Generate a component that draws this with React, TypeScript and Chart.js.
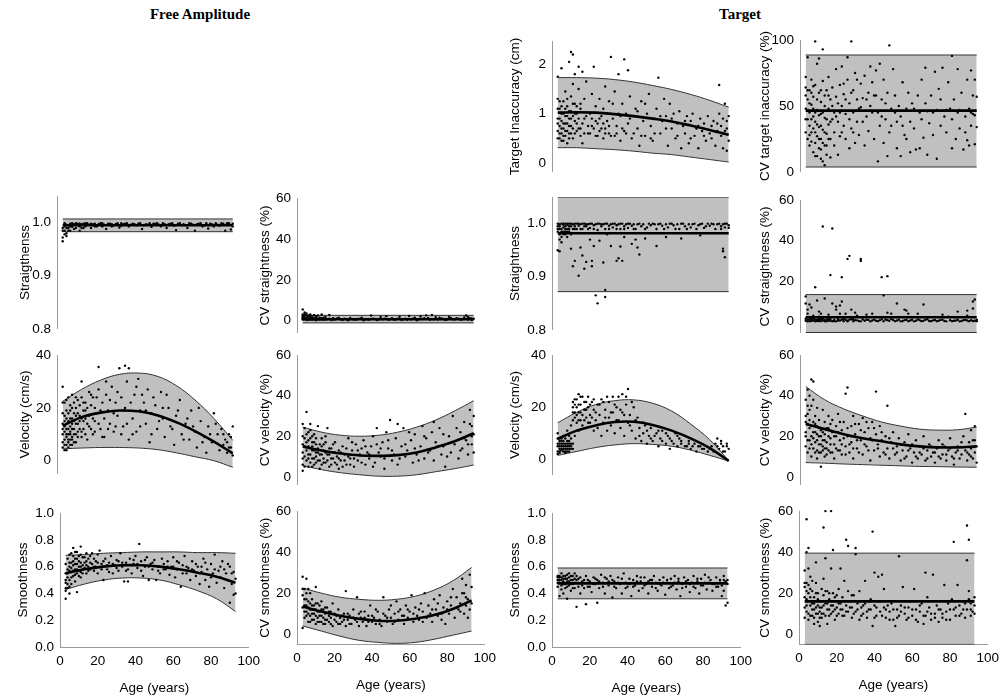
import React, { useEffect, useRef } from "react";
import { Chart, registerables } from "chart.js";
Chart.register(...registerables);

const FONT = "'Liberation Sans', Arial, Helvetica, sans-serif";

// ---------- shared grids ----------
const ageGrid = [3, 13, 23, 33, 43, 53, 63, 73, 83, 93];
const flatGrid = [3, 93];
const ageTicks = [0, 20, 40, 60, 80, 100];

// ---------- Free Amplitude: Straightness ----------
const faStraightPts: [number, number][] = [[3,0.965],[3,0.972],[4,0.978],[4,0.985],[5,0.99],[5,0.975],[6,0.995],[6,0.985],[7,0.998],[8,0.992],[9,0.988],[10,0.999],[11,0.995],[12,0.985],[13,0.997],[14,0.99],[15,0.999],[17,0.996],[18,0.99],[20,0.998],[21,0.993],[23,0.999],[25,0.996],[26,0.988],[28,0.998],[30,0.995],[32,0.999],[33,0.991],[35,0.997],[37,0.999],[38,0.993],[40,0.998],[42,0.995],[44,0.999],[45,0.988],[47,0.997],[49,0.999],[50,0.992],[52,0.998],[54,0.996],[56,0.999],[58,0.99],[60,0.998],[62,0.994],[63,0.986],[65,0.999],[67,0.997],[69,0.99],[70,0.999],[72,0.996],[73,0.985],[75,0.998],[77,0.993],[79,0.999],[80,0.989],[82,0.997],[84,0.999],[86,0.994],[88,0.998],[89,0.985],[90,0.999],[91,0.996],[92,0.987],[93,0.998],[4,0.999],[8,0.999],[12,0.998],[16,0.999],[19,0.997],[24,0.999],[29,0.997],[34,0.999],[39,0.996],[43,0.998],[48,0.996],[53,0.999],[57,0.997],[61,0.999],[66,0.995],[71,0.998],[76,0.999],[81,0.998],[85,0.996],[87,0.999]];
const faStraightPts2: [number, number][] = [[3,0.99],[3,0.985],[4,0.993],[5,0.996],[5,0.98],[6,0.99],[7,0.993],[7,0.985],[8,0.995],[9,0.997],[10,0.99],[11,0.998],[12,0.993],[13,0.99],[14,0.998],[15,0.993],[16,0.996],[18,0.998],[20,0.993],[22,0.997],[24,0.993],[27,0.998],[29,0.993],[31,0.997],[34,0.994],[36,0.998],[41,0.997],[46,0.995],[51,0.998],[55,0.993],[59,0.997],[64,0.998],[68,0.995],[74,0.997],[78,0.995],[83,0.993],[87,0.997],[91,0.999],[93,0.993]];
const faStraightFit = [0.995, 0.995];
const faStraightUp = [1.007, 1.007];
const faStraightLo = [0.983, 0.983];

// ---------- Free Amplitude: CV straightness ----------
const faCvStraightPts: [number, number][] = [[3,5.5],[3,3],[3,1.5],[3,0.5],[4,4],[4,2],[4,0.8],[5,3.5],[5,1.2],[5,0.3],[6,2.5],[6,1],[7,3],[7,0.5],[8,2],[8,1],[9,2.8],[9,0.6],[10,1.5],[10,0.2],[11,2.5],[11,1],[12,0.5],[13,3],[13,1.2],[14,0.4],[15,1.8],[16,0.7],[17,2.8],[18,0.3],[19,1.2],[20,0.5],[22,1.5],[24,0.3],[25,0.9],[27,0.2],[28,1.3],[30,0.5],[32,0.8],[34,1.5],[35,0.2],[37,0.7],[39,2.5],[40,1],[42,0.3],[44,1.8],[45,0.6],[47,2.2],[48,0.4],[50,1.2],[52,0.5],[54,1.9],[55,0.3],[57,1],[59,2.3],[60,0.6],[62,1.5],[63,0.2],[65,2],[66,0.8],[68,2.6],[69,1.3],[70,0.4],[71,2.8],[73,1.7],[74,0.5],[76,1.1],[78,0.3],[80,1.8],[82,0.7],[84,1.2],[86,0.4],[88,1.6],[89,2.5],[90,0.5],[91,1.2],[92,0.3],[93,0.9]];
const faCvStraightPts2: [number, number][] = [[3,2.2],[3,1],[4,3],[4,1.5],[5,2.5],[5,0.8],[6,1.8],[6,0.4],[7,2],[7,1.2],[8,1.5],[8,0.4],[9,1.2],[10,2.2],[11,0.5],[12,1.5],[13,0.6],[14,1.4],[15,0.6],[17,1],[19,0.5],[21,1.1],[23,0.6],[26,0.5],[29,0.7],[31,0.4],[33,0.9],[36,0.6],[38,0.4],[41,0.8],[43,0.5],[46,0.9],[49,0.6],[51,0.4],[53,0.9],[56,0.6],[58,0.4],[61,0.9],[64,0.5],[67,1.2],[72,0.6],[75,1.4],[77,0.8],[79,0.5],[81,1.3],[83,0.5],[85,0.9],[87,0.6],[90,1.8],[92,1.1]];
const faCvStraightFit = [0.7, 0.7];
const faCvStraightUp = [2.6, 2.6];
const faCvStraightLo = [-1.1, -1.1];

// ---------- Free Amplitude: Velocity ----------
const faVelPts: [number, number][] = [[3,5],[3,10],[3,14],[3,28],[4,4],[4,8],[4,11],[4,17],[4,22],[5,6],[5,9],[5,12],[5,19],[6,7],[6,10],[6,15],[6,24],[7,8],[7,11],[7,13],[7,21],[8,6],[8,9],[8,16],[8,25],[9,10],[9,12],[9,18],[10,7],[10,14],[10,20],[11,11],[11,23],[12,15],[12,17],[13,9],[13,30],[14,12],[14,19],[15,22],[15,16],[16,8],[17,26],[17,13],[18,21],[19,10],[19,24],[20,15],[21,18],[22,35.5],[22,27],[23,12],[24,22],[25,9],[26,25],[27,19],[28,14],[29,28],[30,11],[31,22],[32,17],[33,35],[34,24],[35,13],[36,36],[36,20],[37,30],[38,8],[38,35],[40,16],[41,25],[42,11],[43,31],[44,19],[46,22],[47,14],[48,27],[49,7],[50,18],[52,21],[53,12],[55,26],[56,16],[57,9],[59,20],[60,13],[62,6],[63,17],[65,23],[66,10],[68,14],[70,8],[71,19],[73,11],[74,5],[76,15],[78,9],[79,3],[80,13],[82,7],[83,18],[85,10],[86,4],[87,12],[88,6],[89,8],[90,3],[91,10],[92,5],[93,2],[93,13]];
const faVelPts2: [number, number][] = [[3,7],[3,12],[3,18],[3,22],[4,6],[4,13],[4,15],[5,4],[5,10],[5,14],[5,16],[5,23],[6,5],[6,8],[6,12],[6,18],[7,6],[7,10],[7,16],[7,19],[8,8],[8,12],[8,14],[8,20],[9,7],[9,15],[9,22],[10,10],[10,17],[10,24],[11,9],[11,14],[11,18],[12,12],[12,21],[13,11],[13,16],[13,24],[14,15],[14,22],[15,10],[15,19],[16,14],[16,20],[17,17],[18,12],[18,25],[19,16],[20,20],[20,11],[21,24],[22,14],[23,19],[24,9],[25,16],[26,30],[27,12],[28,23],[30,18],[31,13],[32,26],[34,10],[35,19],[37,14],[39,22],[40,10],[42,28],[44,13],[45,25],[47,19],[50,10],[51,24],[54,15],[56,20],[58,25],[61,12],[64,19],[67,8],[69,16],[72,13],[75,20],[77,7],[81,10],[84,14],[88,10],[90,7],[91,5],[92,9]];
const faVelFit = [13.2, 16.5, 18.2, 19, 18.7, 17.2, 14.6, 11.2, 7.2, 2.8];
const faVelUp = [22.5, 27, 30.5, 32.7, 33.2, 32, 28.5, 23, 16, 7.7];
const faVelLo = [4.5, 4.8, 5, 5, 4.8, 4.2, 3, 1.5, 0, -2.5];

// ---------- Free Amplitude: CV velocity ----------
const faCvVelPts: [number, number][] = [[3,3],[3,12],[3,20],[3,26],[4,15],[4,24],[5,8],[5,32],[5,17],[6,11],[6,22],[6,5],[7,14],[7,19],[7,26],[8,9],[8,13],[8,17],[9,6],[9,21],[10,12],[10,16],[11,8],[11,25],[12,11],[12,4],[13,15],[13,19],[14,9],[14,13],[15,7],[15,17],[16,11],[16,24],[17,5],[18,14],[18,9],[19,12],[20,7],[20,17],[21,10],[22,4],[22,13],[23,8],[24,15],[25,11],[26,6],[27,19],[28,9],[29,13],[30,5],[31,16],[32,8],[33,11],[34,14],[35,18],[36,6],[37,12],[38,9],[39,15],[40,20],[41,7],[42,24],[43,12],[44,10],[45,17],[46,4],[47,22],[48,14],[49,28],[50,8],[51,11],[52,19],[53,6],[55,15],[56,24],[57,10],[58,13],[60,18],[61,7],[62,21],[63,11],[65,15],[66,25],[67,9],[68,19],[70,13],[71,22],[72,8],[73,17],[75,24],[76,11],[77,15],[78,5],[80,20],[81,12],[82,30],[83,16],[85,9],[86,22],[87,14],[88,27],[89,18],[90,11],[91,33],[92,25],[92,16],[93,21],[93,12]];
const faCvVelPts2: [number, number][] = [[3,6],[3,9],[3,16],[4,10],[4,19],[4,5],[5,13],[5,21],[6,9],[6,15],[6,18],[7,7],[7,11],[7,23],[8,5],[8,15],[8,20],[9,9],[9,13],[9,17],[10,7],[10,10],[10,19],[11,12],[11,14],[12,8],[12,16],[13,6],[13,11],[14,16],[14,7],[15,12],[15,20],[16,8],[17,11],[17,14],[18,6],[19,9],[19,16],[20,12],[21,6],[22,9],[23,12],[24,5],[25,8],[26,14],[27,10],[28,6],[29,17],[30,9],[32,13],[34,7],[36,15],[38,11],[40,5],[42,16],[44,14],[46,9],[48,18],[50,13],[53,26],[54,9],[57,16],[59,22],[62,14],[64,8],[67,20],[69,12],[72,27],[74,15],[77,21],[79,10],[82,17],[84,24],[86,13],[88,19],[90,16],[91,26],[92,20],[93,30]];
const faCvVelFit = [15, 13, 11.5, 10.5, 10.3, 10.7, 12, 14.5, 17.5, 21.5];
const faCvVelUp = [24.5, 22, 20.5, 20, 20.5, 22, 24.5, 28, 32.5, 37.5];
const faCvVelLo = [5.5, 3.5, 2, 1, 0.3, 0.3, 1, 2.5, 4, 5.8];

// ---------- Free Amplitude: Smoothness ----------
const faSmoothPts: [number, number][] = [[3,0.36],[3,0.42],[3,0.48],[3,0.55],[3,0.62],[4,0.44],[4,0.52],[4,0.58],[4,0.66],[5,0.4],[5,0.5],[5,0.6],[5,0.69],[6,0.47],[6,0.56],[6,0.63],[7,0.53],[7,0.61],[7,0.74],[8,0.49],[8,0.58],[8,0.66],[9,0.41],[9,0.55],[9,0.62],[9,0.71],[10,0.57],[10,0.64],[11,0.52],[11,0.6],[11,0.75],[12,0.58],[12,0.67],[13,0.63],[14,0.55],[14,0.61],[15,0.66],[16,0.58],[17,0.7],[18,0.6],[19,0.64],[20,0.55],[21,0.72],[22,0.62],[23,0.5],[24,0.66],[25,0.58],[26,0.63],[27,0.68],[28,0.55],[29,0.61],[30,0.65],[31,0.57],[32,0.7],[33,0.6],[34,0.49],[35,0.63],[36,0.58],[37,0.66],[38,0.55],[39,0.62],[40,0.68],[41,0.59],[42,0.77],[43,0.64],[44,0.53],[45,0.6],[46,0.67],[47,0.5],[48,0.62],[49,0.58],[50,0.65],[51,0.5],[52,0.6],[53,0.55],[54,0.66],[55,0.62],[56,0.58],[57,0.64],[58,0.54],[59,0.6],[60,0.67],[61,0.52],[62,0.58],[63,0.63],[64,0.45],[65,0.61],[66,0.68],[67,0.55],[68,0.59],[69,0.5],[70,0.64],[71,0.57],[72,0.53],[73,0.6],[74,0.47],[75,0.56],[76,0.66],[77,0.5],[78,0.58],[79,0.45],[80,0.62],[81,0.55],[82,0.69],[83,0.48],[84,0.57],[85,0.52],[86,0.64],[87,0.44],[88,0.55],[89,0.5],[90,0.6],[90,0.33],[91,0.47],[92,0.56],[92,0.39],[93,0.51],[93,0.4]];
const faSmoothPts2: [number, number][] = [[3,0.44],[3,0.5],[4,0.47],[4,0.55],[5,0.45],[5,0.57],[5,0.63],[6,0.52],[6,0.59],[6,0.7],[7,0.57],[7,0.64],[7,0.68],[8,0.54],[8,0.62],[8,0.71],[9,0.58],[9,0.66],[10,0.6],[10,0.68],[10,0.53],[11,0.56],[11,0.63],[11,0.69],[12,0.61],[12,0.55],[13,0.59],[13,0.67],[14,0.64],[14,0.7],[15,0.6],[15,0.57],[16,0.63],[16,0.68],[17,0.62],[18,0.57],[18,0.66],[19,0.6],[20,0.63],[20,0.69],[22,0.58],[23,0.64],[25,0.61],[26,0.56],[28,0.62],[30,0.59],[31,0.64],[33,0.63],[35,0.57],[36,0.49],[38,0.61],[39,0.65],[41,0.62],[43,0.57],[45,0.65],[47,0.6],[49,0.63],[52,0.57],[55,0.58],[57,0.6],[60,0.6],[62,0.64],[65,0.55],[67,0.6],[70,0.58],[72,0.62],[75,0.6],[77,0.63],[80,0.52],[82,0.58],[85,0.6],[87,0.58],[89,0.62],[91,0.55]];
const faSmoothFit = [0.55, 0.58, 0.6, 0.61, 0.61, 0.6, 0.58, 0.555, 0.525, 0.48];
const faSmoothUp = [0.685, 0.69, 0.7, 0.705, 0.71, 0.71, 0.71, 0.705, 0.705, 0.7];
const faSmoothLo = [0.43, 0.47, 0.5, 0.515, 0.515, 0.5, 0.465, 0.42, 0.36, 0.265];

// ---------- Free Amplitude: CV smoothness ----------
const faCvSmoothPts: [number, number][] = [[3,3],[3,19],[3,28],[4,8],[4,14],[4,22],[5,11],[5,17],[5,27],[6,6],[6,13],[6,22],[7,9],[7,15],[7,20],[8,7],[8,12],[8,17],[9,10],[9,14],[10,5],[10,12],[10,23],[11,8],[11,15],[12,6],[12,11],[13,9],[13,16],[14,5],[14,12],[15,7],[15,10],[16,13],[17,6],[17,9],[18,11],[19,4],[19,15],[20,7],[21,9],[22,12],[22,5],[23,8],[24,6],[25,10],[26,21],[26,4],[27,7],[28,9],[29,5],[30,12],[31,7],[32,18],[33,4],[33,10],[34,8],[35,6],[36,11],[37,4],[38,9],[39,14],[40,6],[41,8],[42,5],[43,11],[44,7],[45,4],[46,18],[47,9],[48,6],[49,12],[50,8],[51,5],[52,10],[53,16],[54,7],[55,12],[56,9],[57,5],[58,14],[59,8],[60,11],[61,19],[62,6],[63,13],[64,9],[65,7],[66,15],[67,11],[68,20],[69,8],[70,14],[71,10],[72,6],[73,17],[74,12],[75,9],[76,19],[77,7],[78,13],[79,5],[80,16],[81,10],[82,14],[83,22],[84,8],[85,18],[86,12],[87,15],[88,27],[89,10],[89,20],[90,14],[90,24],[91,8],[91,17],[92,12],[92,29],[93,15],[93,23]];
const faCvSmoothPts2: [number, number][] = [[3,13],[3,22],[4,11],[4,17],[5,9],[5,14],[5,20],[6,10],[6,16],[7,12],[7,6],[8,10],[8,14],[9,7],[9,12],[10,9],[10,15],[11,6],[11,11],[12,9],[12,14],[13,6],[13,12],[14,8],[15,5],[15,13],[16,7],[17,11],[18,5],[18,8],[20,10],[21,6],[23,5],[24,9],[25,7],[27,10],[28,5],[30,8],[32,6],[34,11],[36,8],[38,6],[40,9],[42,12],[44,5],[46,10],[48,8],[50,14],[52,6],[54,11],[57,9],[59,12],[62,10],[65,12],[67,6],[70,9],[72,12],[75,15],[77,10],[80,12],[82,18],[85,13],[87,11],[88,20],[90,18],[92,16]];
const faCvSmoothFit = [13.5, 11, 9, 7.5, 6.5, 6.5, 7.5, 9.3, 12.3, 16.5];
const faCvSmoothUp = [22.5, 20, 18, 17, 16.5, 17, 18.5, 21.5, 26, 32.5];
const faCvSmoothLo = [4, 1.5, -1, -3, -4, -4.5, -4, -2.5, -0.5, 1.5];

// ---------- Target: Target inaccuracy ----------
const tgInaccPts: [number, number][] = [[3,0.5],[3,0.9],[3,1.3],[3,1.75],[4,0.6],[4,1.1],[4,0.75],[5,0.45],[5,0.85],[5,1.0],[5,1.92],[6,0.7],[6,1.25],[6,0.55],[7,0.95],[7,0.65],[7,1.45],[8,0.8],[8,1.15],[8,0.4],[9,0.6],[9,1.05],[9,2.05],[10,0.75],[10,1.35],[10,2.25],[10,0.9],[11,0.5],[11,1.6],[11,2.2],[12,0.85],[12,1.2],[12,1.8],[13,0.65],[13,1.0],[14,1.5],[14,1.95],[15,0.7],[15,1.1],[16,0.4],[16,1.85],[17,0.9],[17,1.3],[18,1.65],[19,0.6],[20,1.0],[21,0.75],[21,1.4],[22,1.95],[23,0.55],[23,1.15],[24,0.8],[25,0.65],[25,1.3],[26,0.95],[27,0.5],[27,1.1],[28,0.7],[28,1.55],[29,0.85],[30,1.25],[30,0.6],[31,2.15],[32,0.9],[33,1.45],[33,0.55],[34,0.75],[35,1.8],[36,0.95],[36,0.45],[37,1.2],[38,2.1],[38,0.65],[39,1.0],[40,1.88],[40,0.8],[41,1.35],[42,0.5],[43,0.95],[44,1.1],[45,0.7],[46,0.35],[47,1.25],[48,0.85],[49,0.55],[50,1.0],[51,1.4],[52,0.75],[53,0.45],[54,0.9],[55,1.1],[56,1.73],[57,0.6],[58,0.85],[59,1.3],[60,0.95],[61,0.35],[62,1.2],[63,0.7],[64,1.0],[65,0.5],[66,0.8],[67,1.05],[68,0.3],[69,0.75],[70,0.6],[71,0.95],[72,0.4],[73,0.85],[74,1.0],[75,0.55],[76,0.7],[77,0.3],[78,0.9],[79,0.65],[80,0.8],[81,0.45],[82,0.95],[83,0.6],[84,0.75],[85,0.85],[86,0.35],[87,0.65],[88,1.0],[88,1.58],[89,0.55],[89,0.75],[90,0.9],[90,0.3],[91,1.2],[91,0.65],[92,0.25],[92,0.85],[93,0.45],[93,0.95]];
const tgInaccPts2: [number, number][] = [[3,0.65],[3,0.8],[3,1.1],[4,0.5],[4,0.9],[4,1.25],[5,0.7],[5,0.6],[5,1.15],[6,0.8],[6,1.0],[6,0.45],[7,0.55],[7,0.8],[7,1.1],[8,0.65],[8,0.95],[8,1.3],[9,0.75],[9,0.5],[9,0.9],[10,0.6],[10,1.05],[11,0.7],[11,0.95],[11,1.2],[12,0.6],[12,1.0],[13,0.8],[13,1.15],[14,0.7],[14,0.9],[15,0.55],[15,1.2],[16,0.8],[17,0.6],[18,0.95],[19,0.75],[20,0.6],[21,0.9],[22,0.7],[23,0.85],[24,0.55],[25,0.9],[26,0.7],[27,0.8],[28,0.6],[29,1.0],[30,0.75],[31,0.55],[32,1.2],[34,0.6],[35,1.0],[37,0.7],[39,0.6],[41,0.9],[43,0.6],[45,1.05],[47,0.55],[49,1.2],[52,0.5],[54,0.6],[57,0.95],[60,0.7],[63,0.9],[66,0.55],[70,0.85],[73,0.5],[77,0.75],[80,0.55],[84,0.5],[87,0.8],[90,0.6],[92,0.7]];
const tgInaccFit = [1.02, 1.03, 1.02, 0.99, 0.95, 0.9, 0.84, 0.76, 0.67, 0.57];
const tgInaccUp = [1.73, 1.73, 1.72, 1.69, 1.64, 1.57, 1.49, 1.39, 1.27, 1.13];
const tgInaccLo = [0.31, 0.31, 0.29, 0.27, 0.24, 0.2, 0.17, 0.12, 0.07, 0.02];

// ---------- Target: CV target inaccuracy ----------
const tgCvInaccPts: [number, number][] = [[3,48],[3,58],[3,64],[3,72],[4,25],[4,40],[4,55],[4,87],[5,20],[5,35],[5,45],[5,62],[6,30],[6,51],[6,70],[7,15],[7,42],[7,57],[8,22],[8,38],[8,99],[8,66],[9,12],[9,27],[9,47],[9,82],[10,18],[10,34],[10,60],[10,86],[11,10],[11,25],[11,44],[11,53],[12,8],[12,32],[12,93],[12,69],[13,5],[13,20],[13,41],[13,58],[14,13],[14,29],[14,62],[15,36],[15,48],[15,72],[16,11],[16,25],[16,55],[17,40],[17,64],[18,30],[18,45],[19,57],[19,78],[20,13],[20,38],[21,27],[21,66],[22,50],[22,80],[23,35],[23,59],[24,25],[24,44],[25,70],[25,87],[26,18],[26,52],[27,99],[27,33],[28,62],[28,45],[29,22],[29,75],[30,55],[30,38],[31,28],[32,67],[32,49],[33,56],[34,20],[34,73],[35,42],[36,60],[36,31],[37,80],[37,50],[38,68],[39,25],[40,58],[40,77],[41,8],[41,45],[42,82],[42,35],[43,55],[44,22],[44,70],[45,40],[46,12],[46,60],[47,96],[47,30],[48,48],[49,78],[50,45],[51,18],[51,38],[52,50],[53,12],[54,68],[54,35],[55,28],[56,48],[57,60],[58,38],[58,15],[59,52],[60,33],[61,17],[62,58],[63,45],[63,18],[64,70],[65,26],[66,79],[66,52],[67,13],[68,37],[69,58],[70,28],[71,76],[72,47],[72,10],[73,63],[74,35],[75,79],[76,42],[77,30],[78,68],[79,48],[80,88],[80,18],[81,55],[82,25],[83,78],[83,45],[84,33],[85,60],[86,17],[87,42],[88,24],[88,70],[89,20],[89,48],[90,77],[90,35],[91,58],[91,44],[92,21],[92,70],[93,34],[93,57]];
const tgCvInaccPts2: [number, number][] = [[3,40],[3,30],[4,62],[4,47],[5,28],[5,52],[6,40],[6,60],[6,23],[7,33],[7,48],[7,65],[8,30],[8,45],[8,12],[9,36],[9,55],[10,25],[10,43],[11,17],[11,35],[11,62],[12,22],[12,45],[13,30],[13,50],[14,20],[14,40],[15,25],[15,58],[16,38],[17,50],[18,20],[19,42],[20,52],[21,45],[22,30],[23,67],[24,55],[26,40],[27,60],[28,30],[30,70],[31,48],[33,38],[35,55],[38,45],[39,58],[43,42],[45,52],[48,35],[50,58],[53,42],[56,25],[60,48],[64,40],[67,46],[70,45],[74,55],[77,47],[80,40],[84,47],[87,30],[90,45],[92,43]];
const tgCvInaccFit = [46.5, 46.5];
const tgCvInaccUp = [88.7, 88.7];
const tgCvInaccLo = [3.7, 3.7];

// ---------- Target: Straightness ----------
const tgStraightPts: [number, number][] = [[3,0.95],[4,0.948],[4,0.97],[5,0.965],[6,0.98],[7,0.985],[8,0.975],[9,0.99],[10,0.953],[11,0.92],[12,0.93],[14,0.902],[15,0.955],[16,0.94],[17,0.915],[18,0.928],[20,0.97],[21,0.92],[21,0.93],[22,0.958],[23,0.865],[24,0.85],[25,0.968],[27,0.927],[28,0.875],[28,0.862],[29,0.98],[31,0.958],[34,0.93],[35,0.935],[36,0.957],[37,0.93],[38,0.975],[42,0.962],[44,0.97],[45,0.955],[46,0.942],[49,0.972],[55,0.958],[60,0.975],[68,0.972],[78,0.978],[90,0.953],[90,0.948],[91,0.937],[3,1],[3,0.995],[4,0.999],[4,0.99],[5,1],[5,0.985],[6,0.998],[6,0.993],[7,1],[7,0.99],[8,0.998],[8,0.985],[9,1],[10,0.995],[11,0.999],[12,0.99],[13,1],[14,0.996],[15,0.999],[16,0.99],[17,1],[18,0.995],[19,0.999],[20,0.992],[21,1],[22,0.997],[23,0.999],[24,0.988],[25,1],[26,0.995],[27,0.999],[28,0.99],[29,1],[30,0.996],[31,0.999],[32,0.993],[33,1],[34,0.997],[35,0.999],[36,0.99],[37,1],[38,0.995],[39,0.999],[40,0.992],[41,1],[42,0.996],[43,0.999],[44,0.99],[46,1],[47,0.995],[48,0.999],[50,0.993],[51,1],[52,0.997],[54,0.999],[55,0.99],[57,1],[58,0.996],[60,0.999],[61,0.993],[63,1],[64,0.997],[66,0.999],[67,0.99],[69,1],[70,0.995],[72,0.999],[73,0.993],[75,1],[77,0.997],[78,0.999],[80,0.992],[82,1],[83,0.996],[85,0.999],[86,0.99],[88,1],[89,0.995],[90,0.999],[91,0.993],[92,1],[93,0.997]];
const tgStraightPts2: [number, number][] = [[3,0.985],[3,0.99],[4,0.995],[4,0.98],[5,0.99],[5,0.975],[6,0.985],[6,1],[7,0.995],[7,0.98],[8,0.99],[8,1],[9,0.995],[9,0.985],[10,1],[10,0.98],[11,0.99],[12,1],[12,0.995],[13,0.99],[14,1],[15,0.99],[16,1],[17,0.995],[18,0.999],[19,0.99],[20,1],[22,0.99],[24,1],[26,0.999],[28,1],[30,0.99],[32,1],[34,0.99],[36,1],[38,0.99],[40,1],[43,0.99],[45,0.999],[49,0.99],[53,1],[56,0.999],[59,0.99],[62,1],[65,0.99],[68,1],[71,0.99],[74,0.999],[76,0.99],[79,1],[81,0.995],[84,1],[87,0.999],[89,0.99],[91,1],[93,0.992]];
const tgStraightFit = [0.982, 0.982];
const tgStraightUp = [1.05, 1.05];
const tgStraightLo = [0.872, 0.872];

// ---------- Target: CV straightness ----------
const tgCvStraightPts: [number, number][] = [[3,12.5],[3,9],[4,6],[4,4],[5,8.5],[6,7],[7,3],[8,17],[9,10.5],[10,5],[10,2.5],[11,4],[12,47],[13,11.5],[15,3.5],[16,23],[17,46],[17,9],[19,7.5],[19,6],[21,8],[21,4],[22,10],[22,22],[24,4],[25,31],[26,32.5],[27,6],[29,4.5],[30,3],[32,31],[32,30],[35,3.5],[38,4],[43,22],[44,13],[46,22.5],[46,4.5],[48,4],[51,9],[55,6],[56,5.5],[57,4],[62,4],[65,8.5],[75,3.5],[78,2.5],[83,5],[88,5.5],[88,3],[91,10],[91,6.5],[92,11],[3,0.5],[4,1],[5,0.3],[6,1.2],[7,0.6],[8,0.2],[9,1],[10,0.4],[11,1.4],[12,0.7],[13,0.2],[14,1.1],[15,0.5],[16,1.3],[17,0.3],[18,0.9],[19,0.2],[20,1.2],[21,0.6],[23,0.3],[24,1],[25,0.5],[27,1.2],[28,0.3],[29,0.8],[31,0.4],[33,1.1],[34,0.5],[36,0.9],[37,0.2],[39,1],[40,0.5],[42,0.8],[44,0.3],[45,1.1],[47,0.5],[49,0.9],[50,0.3],[52,1],[54,0.4],[55,0.8],[57,0.3],[59,1],[61,0.5],[63,0.8],[64,0.3],[66,1],[68,0.4],[70,0.7],[72,0.3],[74,0.9],[76,0.4],[79,0.8],[80,0.3],[82,0.6],[85,0.4],[87,0.9],[89,0.3],[90,0.8],[92,0.5],[93,0.3]];
const tgCvStraightPts2: [number, number][] = [[3,1.5],[4,0.2],[5,1.2],[6,0.4],[7,1.5],[8,1],[9,0.4],[10,1.2],[11,0.3],[12,1.5],[13,0.8],[14,0.3],[15,1.4],[16,0.5],[18,0.3],[20,0.6],[22,1],[23,1.4],[25,0.2],[26,1],[28,1.4],[30,0.7],[32,0.2],[35,1],[38,0.6],[41,0.3],[43,1.2],[46,0.8],[48,1.3],[51,0.6],[53,0.2],[56,1],[58,0.6],[60,0.2],[62,1.1],[65,0.5],[67,1.2],[69,0.3],[71,0.9],[73,0.5],[75,1],[77,0.2],[81,0.5],[83,1],[84,0.2],[86,0.8],[88,0.6],[91,0.4],[93,1]];
const tgCvStraightFit = [2.2, 2.2];
const tgCvStraightUp = [13.4, 13.4];
const tgCvStraightLo = [-5.3, -5.3];

// ---------- Target: Velocity ----------
const tgVelPts: [number, number][] = [[3,2],[3,5],[3,8],[3,10],[4,3],[4,6],[4,4],[5,7],[5,3.5],[5,5],[6,4],[6,9],[6,6],[7,3],[7,5],[7,8],[8,4],[8,6],[8,11],[9,5],[9,7],[9,3],[10,13],[10,8],[10,4],[11,18],[11,22],[11,6],[12,23],[12,16],[12,9],[13,20],[13,14],[14,25],[14,18],[14,11],[15,21],[15,15],[16,24],[16,13],[17,19],[17,22],[18,16],[18,12],[19,20],[19,24],[20,17],[20,14],[21,22],[22,11],[22,19],[23,15],[24,21],[24,12],[25,17],[26,9],[26,23],[27,14],[28,19],[29,11],[30,22],[30,16],[31,13],[32,24],[32,18],[33,10],[34,20],[35,15],[35,24],[36,12],[37,25],[37,18],[38,9],[39,21],[40,27],[40,14],[41,17],[42,11],[43,20],[44,8],[45,16],[46,12],[47,7],[48,10],[49,13],[50,6],[51,9],[52,12],[53,7],[55,10],[56,5],[57,8],[58,11],[60,6],[61,9],[62,4],[63,7],[65,10],[66,5],[67,8],[68,6],[70,9],[71,5],[72,7],[73,4],[75,6],[76,3],[78,5],[80,4],[82,3],[84,5],[86,6],[87,8],[88,4],[89,7],[90,5],[91,3],[92,6],[93,4]];
const tgVelPts2: [number, number][] = [[3,3],[3,6],[4,5],[4,7],[4,2.5],[5,4],[5,6],[5,8],[6,3],[6,5],[6,7],[7,4],[7,6],[7,2.5],[8,3],[8,5],[8,7],[9,4],[9,6],[9,9],[10,5],[10,6],[11,4],[11,15],[11,20],[12,18],[12,21],[13,17],[13,23],[14,15],[14,21],[15,18],[15,24],[16,17],[17,15],[18,19],[18,22],[19,14],[20,21],[21,16],[22,23],[23,18],[25,21],[27,22],[28,16],[29,24],[31,18],[33,21],[34,15],[36,19],[38,17],[39,24],[41,13],[42,22],[44,15],[46,9],[48,14],[50,11],[52,8],[54,9],[56,11],[58,7],[60,10],[62,8],[64,6],[66,9],[68,7],[70,5],[72,6],[74,5],[77,5],[79,4],[83,4],[85,3],[87,5],[89,6],[90,3],[92,5]];
const tgVelFit = [7.8, 11, 13, 14.3, 14.4, 13.2, 11, 8, 4.3, -0.6];
const tgVelUp = [14, 18, 21, 22.5, 22.8, 21.5, 18.5, 13.5, 7.5, -0.5];
const tgVelLo = [1.5, 3, 4.5, 5.5, 6, 5.7, 5, 3.5, 1.5, -0.7];

// ---------- Target: CV velocity ----------
const tgCvVelPts: [number, number][] = [[3,15],[3,22],[3,30],[3,38],[4,12],[4,26],[4,35],[4,43],[5,18],[5,24],[5,33],[6,10],[6,20],[6,48],[7,14],[7,27],[7,47],[8,17],[8,22],[8,30],[9,9],[9,13],[9,25],[10,16],[10,20],[10,28],[11,5],[11,12],[11,23],[12,15],[12,18],[12,33],[13,10],[13,21],[13,27],[14,14],[14,17],[15,24],[15,30],[16,12],[16,19],[17,22],[17,28],[18,9],[18,16],[19,25],[19,20],[20,13],[20,31],[21,18],[22,23],[22,11],[23,27],[24,15],[24,41],[25,44],[25,20],[26,12],[27,25],[27,17],[28,30],[28,9],[29,21],[30,14],[31,26],[32,18],[33,11],[33,29],[34,22],[35,15],[36,24],[37,8],[37,19],[38,27],[39,13],[40,42],[40,21],[41,16],[42,10],[42,25],[43,18],[44,12],[45,20],[46,35],[46,14],[47,9],[48,17],[49,22],[50,11],[51,15],[52,19],[53,8],[54,13],[55,17],[56,10],[57,21],[58,14],[59,7],[60,12],[61,18],[62,9],[63,15],[64,11],[65,20],[66,8],[67,13],[68,16],[69,10],[70,12],[71,7],[72,14],[73,18],[74,9],[75,11],[76,15],[77,8],[78,13],[79,19],[80,10],[81,6],[82,12],[83,15],[84,9],[85,11],[86,20],[87,31],[87,13],[88,8],[89,17],[89,11],[90,14],[90,23],[91,9],[91,18],[92,12],[92,25],[93,7],[93,15]];
const tgCvVelPts2: [number, number][] = [[3,20],[3,27],[4,18],[4,31],[5,14],[5,28],[5,40],[6,16],[6,25],[6,35],[7,19],[7,22],[7,38],[8,12],[8,26],[9,18],[9,21],[9,34],[10,12],[10,24],[11,16],[11,20],[12,13],[12,22],[13,14],[13,18],[14,11],[14,24],[15,20],[15,13],[16,16],[16,26],[17,12],[18,20],[19,14],[20,22],[21,13],[21,27],[22,16],[23,19],[24,11],[25,24],[26,16],[27,20],[28,14],[29,26],[30,18],[31,12],[32,23],[34,16],[35,27],[36,13],[38,18],[39,24],[41,14],[43,22],[45,11],[47,19],[49,14],[51,12],[53,16],[55,9],[57,13],[59,16],[61,10],[63,12],[65,14],[67,9],[69,15],[71,12],[73,10],[75,16],[77,11],[79,14],[81,9],[83,13],[85,17],[88,12],[90,10],[92,18]];
const tgCvVelFit = [26, 23.5, 21, 19, 17.5, 16, 15, 14.5, 14.5, 15];
const tgCvVelUp = [44.5, 38, 33.5, 30, 27, 25, 23.5, 23, 23.2, 24.5];
const tgCvVelLo = [7, 6.7, 6.3, 6, 5.7, 5.4, 5.1, 5, 4.8, 4.7];

// ---------- Target: Smoothness ----------
const tgSmoothPts: [number, number][] = [[3,0.45],[3,0.5],[3,0.53],[4,0.38],[4,0.48],[4,0.52],[5,0.43],[5,0.5],[5,0.55],[6,0.4],[6,0.47],[6,0.53],[7,0.44],[7,0.51],[8,0.49],[8,0.54],[8,0.36],[9,0.46],[9,0.52],[10,0.5],[10,0.42],[11,0.53],[11,0.47],[12,0.55],[12,0.44],[13,0.5],[13,0.3],[14,0.48],[15,0.52],[15,0.4],[16,0.46],[17,0.5],[18,0.32],[18,0.53],[19,0.45],[20,0.49],[21,0.41],[22,0.52],[23,0.47],[24,0.33],[24,0.5],[25,0.44],[26,0.54],[27,0.48],[28,0.4],[29,0.51],[30,0.46],[31,0.53],[32,0.37],[33,0.49],[34,0.44],[35,0.52],[36,0.47],[37,0.4],[38,0.55],[39,0.48],[40,0.45],[41,0.51],[42,0.38],[43,0.5],[44,0.46],[45,0.53],[46,0.42],[47,0.49],[48,0.44],[49,0.52],[50,0.47],[51,0.4],[52,0.5],[53,0.45],[54,0.53],[55,0.48],[56,0.42],[57,0.5],[58,0.46],[59,0.52],[60,0.39],[61,0.48],[62,0.44],[63,0.51],[64,0.46],[65,0.53],[66,0.43],[67,0.49],[68,0.38],[69,0.47],[70,0.52],[71,0.45],[72,0.5],[73,0.41],[74,0.48],[75,0.53],[76,0.44],[77,0.49],[78,0.4],[79,0.51],[80,0.46],[81,0.54],[82,0.43],[83,0.48],[84,0.5],[85,0.42],[86,0.47],[87,0.52],[88,0.45],[89,0.5],[90,0.38],[90,0.46],[91,0.53],[91,0.42],[92,0.49],[92,0.31],[93,0.47],[93,0.33]];
const tgSmoothPts2: [number, number][] = [[3,0.48],[3,0.52],[4,0.5],[4,0.53],[5,0.46],[5,0.52],[6,0.49],[6,0.51],[7,0.47],[7,0.53],[8,0.45],[8,0.51],[9,0.49],[9,0.55],[10,0.47],[10,0.53],[11,0.5],[11,0.44],[12,0.51],[12,0.48],[13,0.53],[14,0.45],[14,0.51],[16,0.49],[17,0.44],[19,0.5],[20,0.45],[22,0.47],[23,0.51],[25,0.49],[27,0.45],[28,0.52],[30,0.49],[32,0.5],[33,0.45],[35,0.48],[37,0.51],[39,0.44],[41,0.47],[43,0.45],[45,0.49],[47,0.52],[49,0.46],[51,0.49],[53,0.5],[55,0.44],[57,0.47],[59,0.48],[61,0.5],[63,0.45],[65,0.48],[67,0.51],[69,0.44],[71,0.49],[73,0.47],[75,0.45],[77,0.51],[79,0.46],[81,0.48],[83,0.52],[85,0.47],[87,0.45],[89,0.48],[91,0.5],[93,0.5]];
const tgSmoothFit = [0.475, 0.475];
const tgSmoothUp = [0.59, 0.59];
const tgSmoothLo = [0.36, 0.36];

// ---------- Target: CV smoothness ----------
const tgCvSmoothPts: [number, number][] = [[3,8],[3,13],[3,23],[3,31],[4,11],[4,17],[4,25],[4,40],[4,56],[5,7],[5,20],[5,32],[5,42],[6,14],[6,22],[6,28],[7,9],[7,15],[7,21],[8,5],[8,12],[8,18],[9,10],[9,25],[9,35],[10,6],[10,14],[10,20],[11,4],[11,11],[11,16],[12,8],[12,13],[12,22],[13,52],[13,10],[13,27],[14,60],[14,15],[14,37],[15,5],[15,12],[15,21],[16,9],[16,17],[17,60],[17,14],[17,32],[18,41],[18,11],[18,20],[19,7],[19,16],[20,13],[20,19],[21,10],[21,22],[22,15],[22,32],[23,12],[23,18],[24,9],[24,26],[25,46],[25,14],[26,43],[26,11],[26,21],[27,16],[28,8],[28,13],[29,19],[30,42],[30,39],[30,11],[31,15],[32,7],[32,21],[33,13],[34,10],[35,26],[35,15],[36,8],[37,12],[38,17],[39,50],[39,4],[40,14],[40,30],[41,9],[42,28],[42,16],[43,11],[44,29],[45,13],[45,22],[46,8],[47,14],[48,11],[49,15],[50,7],[51,4],[52,12],[53,38],[53,9],[54,14],[55,23],[56,10],[57,7],[58,13],[59,16],[60,9],[61,22],[62,12],[63,6],[64,11],[65,15],[66,5],[67,30],[67,9],[68,18],[69,13],[70,7],[71,29],[72,10],[73,14],[74,6],[75,12],[76,8],[77,24],[78,11],[79,15],[80,7],[81,17],[82,45],[82,12],[83,9],[84,24],[85,14],[86,10],[87,16],[88,8],[89,53],[89,36],[89,12],[90,46],[90,21],[90,17],[91,9],[91,15],[92,16],[92,11],[93,18],[93,14]];
const tgCvSmoothPts2: [number, number][] = [[3,18],[3,25],[4,14],[4,21],[5,10],[5,16],[5,24],[6,9],[6,18],[7,12],[7,26],[8,8],[8,15],[9,13],[9,20],[10,10],[10,17],[11,8],[11,13],[12,16],[12,10],[13,14],[13,19],[14,9],[14,21],[15,15],[16,12],[16,20],[17,10],[18,14],[19,12],[19,18],[20,9],[21,15],[22,12],[23,9],[24,16],[25,11],[27,13],[28,19],[29,10],[31,12],[32,16],[33,9],[34,14],[36,11],[37,16],[38,12],[40,8],[41,13],[43,16],[44,9],[46,12],[48,7],[50,12],[52,8],[54,11],[56,13],[58,8],[60,12],[62,7],[64,14],[66,9],[68,11],[70,10],[72,8],[74,12],[76,10],[78,7],[80,12],[83,13],[85,9],[87,12],[88,15],[91,12],[93,10]];
const tgCvSmoothFit = [16, 16];
const tgCvSmoothUp = [39.5, 39.5];
const tgCvSmoothLo = [-5, -5];

// ---------- tick label lists ----------
const straightTicks = [0.8, 0.9, 1.0];
const cv60Ticks = [0, 20, 40, 60];
const vel40Ticks = [0, 20, 40];
const smoothTicks = [0, 0.2, 0.4, 0.6, 0.8, 1.0];
const inaccTicks = [0, 1, 2];
const cv100Ticks = [0, 50, 100];

type Spec = {
  L: number; R: number; T: number; B: number; ymin: number; ymax: number;
  ticks: number[]; dec: number; title: string; off: number; xAxis: boolean;
  pts: [number, number][]; grid: number[]; fit: number[]; up: number[]; lo: number[];
};

const panels: Spec[] = [
  { L: 57, R: 246, T: 194.5, B: 331, ymin: 0.8, ymax: 1.05, ticks: straightTicks, dec: 1, title: "Straigthenss", off: 32, xAxis: false, pts: [...faStraightPts, ...faStraightPts2], grid: flatGrid, fit: faStraightFit, up: faStraightUp, lo: faStraightLo },
  { L: 297, R: 487, T: 196, B: 334.5, ymin: -6, ymax: 60, ticks: cv60Ticks, dec: 0, title: "CV straightness (%)", off: 32, xAxis: false, pts: [...faCvStraightPts, ...faCvStraightPts2], grid: flatGrid, fit: faCvStraightFit, up: faCvStraightUp, lo: faCvStraightLo },
  { L: 57, R: 246, T: 353, B: 475.6, ymin: -5, ymax: 40, ticks: vel40Ticks, dec: 0, title: "Velocity (cm/s)", off: 32, xAxis: false, pts: [...faVelPts, ...faVelPts2], grid: ageGrid, fit: faVelFit, up: faVelUp, lo: faVelLo },
  { L: 297, R: 487, T: 353, B: 486.3, ymin: -4, ymax: 60, ticks: cv60Ticks, dec: 0, title: "CV velocity (%)", off: 32, xAxis: false, pts: [...faCvVelPts, ...faCvVelPts2], grid: ageGrid, fit: faCvVelFit, up: faCvVelUp, lo: faCvVelLo },
  { L: 60, R: 250, T: 511, B: 647, ymin: 0, ymax: 1.0, ticks: smoothTicks, dec: 1, title: "Smoothness", off: 37, xAxis: true, pts: [...faSmoothPts, ...faSmoothPts2], grid: ageGrid, fit: faSmoothFit, up: faSmoothUp, lo: faSmoothLo },
  { L: 297, R: 486, T: 509, B: 644.4, ymin: -5, ymax: 60, ticks: cv60Ticks, dec: 0, title: "CV smoothness (%)", off: 32, xAxis: true, pts: [...faCvSmoothPts, ...faCvSmoothPts2], grid: ageGrid, fit: faCvSmoothFit, up: faCvSmoothUp, lo: faCvSmoothLo },
  { L: 552, R: 742, T: 39, B: 174, ymin: -0.18, ymax: 2.47, ticks: inaccTicks, dec: 0, title: "Target Inaccuracy (cm)", off: 37, xAxis: false, pts: [...tgInaccPts, ...tgInaccPts2], grid: ageGrid, fit: tgInaccFit, up: tgInaccUp, lo: tgInaccLo },
  { L: 800, R: 990, T: 38, B: 174, ymin: 0, ymax: 100, ticks: cv100Ticks, dec: 0, title: "CV target inaccuracy (%)", off: 35, xAxis: false, pts: [...tgCvInaccPts, ...tgCvInaccPts2], grid: flatGrid, fit: tgCvInaccFit, up: tgCvInaccUp, lo: tgCvInaccLo },
  { L: 552, R: 742, T: 195.75, B: 332, ymin: 0.8, ymax: 1.05, ticks: straightTicks, dec: 1, title: "Straightness", off: 37, xAxis: false, pts: [...tgStraightPts, ...tgStraightPts2], grid: flatGrid, fit: tgStraightFit, up: tgStraightUp, lo: tgStraightLo },
  { L: 800, R: 990, T: 198, B: 334.5, ymin: -5.5, ymax: 60, ticks: cv60Ticks, dec: 0, title: "CV straightness (%)", off: 35, xAxis: false, pts: [...tgCvStraightPts, ...tgCvStraightPts2], grid: flatGrid, fit: tgCvStraightFit, up: tgCvStraightUp, lo: tgCvStraightLo },
  { L: 552, R: 742, T: 353, B: 477, ymin: -6, ymax: 40, ticks: vel40Ticks, dec: 0, title: "Velocity (cm/s)", off: 37, xAxis: false, pts: [...tgVelPts, ...tgVelPts2], grid: ageGrid, fit: tgVelFit, up: tgVelUp, lo: tgVelLo },
  { L: 800, R: 990, T: 353, B: 486.3, ymin: -4, ymax: 60, ticks: cv60Ticks, dec: 0, title: "CV velocity (%)", off: 35, xAxis: false, pts: [...tgCvVelPts, ...tgCvVelPts2], grid: ageGrid, fit: tgCvVelFit, up: tgCvVelUp, lo: tgCvVelLo },
  { L: 552, R: 742, T: 511, B: 647, ymin: 0, ymax: 1.0, ticks: smoothTicks, dec: 1, title: "Smoothness", off: 37, xAxis: true, pts: [...tgSmoothPts, ...tgSmoothPts2], grid: flatGrid, fit: tgSmoothFit, up: tgSmoothUp, lo: tgSmoothLo },
  { L: 799, R: 989, T: 509, B: 644.4, ymin: -5, ymax: 60, ticks: cv60Ticks, dec: 0, title: "CV smoothness (%)", off: 34, xAxis: true, pts: [...tgCvSmoothPts, ...tgCvSmoothPts2], grid: flatGrid, fit: tgCvSmoothFit, up: tgCvSmoothUp, lo: tgCvSmoothLo },
];

const AXW = 70; // y-axis box width
const PAD_TOP = 12;
const PAD_RIGHT = 16;
const XH = 52; // x-axis box height
const PAD_BOTTOM = 12;
const FS = 13.5;

function Panel({ p }: { p: Spec }) {
  const ref = useRef<HTMLCanvasElement | null>(null);
  const leftF = p.L - AXW;
  const topF = p.T - PAD_TOP;
  const cLeft = Math.floor(leftF);
  const cTop = Math.floor(topF);
  const padL = leftF - cLeft;
  const padT = topF - cTop + PAD_TOP;
  const width = Math.ceil(padL + AXW + (p.R - p.L) + PAD_RIGHT);
  const padR = width - padL - AXW - (p.R - p.L);
  const below = p.xAxis ? XH : PAD_BOTTOM;
  const height = Math.ceil(padT + (p.B - p.T) + below);
  const padB = height - padT - (p.B - p.T) - (p.xAxis ? XH : 0);

  useEffect(() => {
    if (!ref.current) return;
    const curved = p.grid.length > 2;
    const toXY = (ys: number[]) => p.grid.map((x, i) => ({ x, y: ys[i] }));
    const font = { family: FONT, size: FS };
    const xScale: any = {
      type: "linear",
      min: 0,
      max: 100,
      display: p.xAxis,
      grid: { display: false, drawTicks: false },
      border: { display: true, color: "#9a9a9a", width: 1 },
      ticks: { font, color: "#000", padding: 6, maxRotation: 0, autoSkip: false },
      afterBuildTicks: (s: any) => { s.ticks = ageTicks.map((v) => ({ value: v })); },
      title: { display: true, text: "Age (years)", font, color: "#000", padding: { top: 0, bottom: 3 } },
    };
    if (p.xAxis) xScale.afterFit = (s: any) => { s.height = XH; };
    const chart = new Chart(ref.current, {
      type: "line",
      data: {
        datasets: [
          { type: "line", data: toXY(p.fit), borderColor: "#000", borderWidth: 2.6, pointRadius: 0, tension: curved ? 0.4 : 0, fill: false },
          { type: "scatter", data: p.pts.map(([x, y]) => ({ x, y })), showLine: false, pointRadius: 1.2, pointBorderWidth: 0, backgroundColor: "#000", borderColor: "#000", clip: false } as any,
          { type: "line", data: toXY(p.up), borderColor: "#333", borderWidth: 1, pointRadius: 0, tension: curved ? 0.4 : 0, fill: false },
          { type: "line", data: toXY(p.lo), borderColor: "#333", borderWidth: 1, pointRadius: 0, tension: curved ? 0.4 : 0, fill: "-1", backgroundColor: "#c0c0c0" },
        ] as any,
      },
      options: {
        responsive: false,
        animation: false,
        events: [],
        layout: { padding: { left: padL, top: padT, right: padR, bottom: padB } },
        plugins: { legend: { display: false }, tooltip: { enabled: false } },
        scales: {
          x: xScale,
          y: {
            type: "linear",
            min: p.ymin,
            max: p.ymax,
            grid: { display: false, drawTicks: false },
            border: { display: true, color: "#9a9a9a", width: 1 },
            ticks: { font, color: "#000", padding: 6, callback: (v: any) => Number(v).toFixed(p.dec) },
            afterBuildTicks: (s: any) => { s.ticks = p.ticks.map((v) => ({ value: v })); },
            afterFit: (s: any) => { s.width = AXW; },
            title: { display: true, text: p.title, font, color: "#000", padding: { top: Math.max(0, AXW - p.off - FS * 0.6), bottom: 0 } },
          },
        },
      } as any,
    });
    return () => chart.destroy();
  }, []);

  return (
    <canvas
      ref={ref}
      width={width}
      height={height}
      style={{ position: "absolute", left: cLeft, top: cTop, width, height }}
    />
  );
}

export default function App() {
  const titleStyle: React.CSSProperties = {
    position: "absolute",
    top: 5,
    transform: "translateX(-50%)",
    font: "bold 15px 'Liberation Serif', 'Times New Roman', serif",
    color: "#000",
    whiteSpace: "nowrap",
    lineHeight: "18px",
  };
  return (
    <div style={{ position: "absolute", left: 0, top: 0, width: 1001, height: 699, background: "#fff", overflow: "hidden" }}>
      <div style={{ ...titleStyle, left: 200 }}>Free Amplitude</div>
      <div style={{ ...titleStyle, left: 740 }}>Target</div>
      {panels.map((p, i) => (
        <Panel key={i} p={p} />
      ))}
    </div>
  );
}
